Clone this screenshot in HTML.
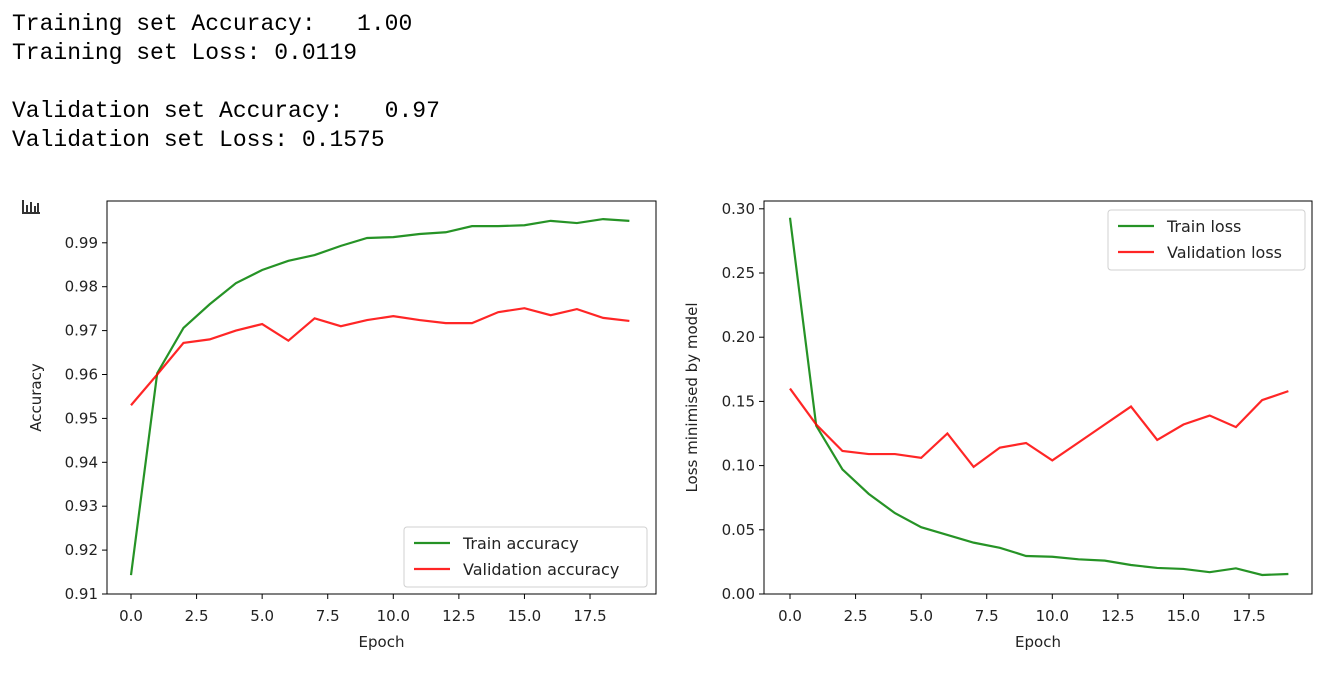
<!DOCTYPE html>
<html><head><meta charset="utf-8">
<style>
body{margin:0;background:#fff;width:1329px;height:684px;overflow:hidden;position:relative}
pre{margin:0;position:absolute;left:12px;top:10px;font-family:"Liberation Mono",monospace;font-size:23px;line-height:29px;color:#000}
svg{position:absolute;left:0;top:0}
text{font-family:"DejaVu Sans",sans-serif;fill:#222}
</style></head><body>
<pre>Training set Accuracy:   1.00
Training set Loss: 0.0119

Validation set Accuracy:   0.97
Validation set Loss: 0.1575</pre>
<svg id="c" width="1329" height="684"></svg>
<script>
const epochs=[0,1,2,3,4,5,6,7,8,9,10,11,12,13,14,15,16,17,18,19];
const trainAcc=[0.9143,0.9603,0.9706,0.976,0.9808,0.9838,0.9859,0.9872,0.9893,0.9911,0.9913,0.992,0.9924,0.9938,0.9938,0.994,0.995,0.9945,0.9954,0.995];
const valAcc=[0.953,0.960,0.9672,0.968,0.970,0.9715,0.9677,0.9728,0.971,0.9724,0.9733,0.9724,0.9717,0.9717,0.9742,0.9751,0.9735,0.9749,0.9729,0.9722];
const trainLoss=[0.293,0.131,0.097,0.078,0.063,0.052,0.046,0.040,0.036,0.0296,0.029,0.027,0.026,0.0226,0.0203,0.0195,0.017,0.020,0.0148,0.0156];
const valLoss=[0.160,0.132,0.1114,0.109,0.109,0.106,0.125,0.099,0.114,0.1176,0.104,0.118,0.132,0.146,0.120,0.132,0.139,0.130,0.151,0.158];
const xTicks=[0,2.5,5,7.5,10,12.5,15,17.5];
const xTickLabels=["0.0","2.5","5.0","7.5","10.0","12.5","15.0","17.5"];
const accTicks=[0.91,0.92,0.93,0.94,0.95,0.96,0.97,0.98,0.99];
const accTickLabels=["0.91","0.92","0.93","0.94","0.95","0.96","0.97","0.98","0.99"];
const lossTicks=[0,0.05,0.10,0.15,0.20,0.25,0.30];
const lossTickLabels=["0.00","0.05","0.10","0.15","0.20","0.25","0.30"];

const svg=document.getElementById('c');
const NS='http://www.w3.org/2000/svg';
function mk(tag,a,parent){const e=document.createElementNS(NS,tag);for(const k in a)e.setAttribute(k,a[k]);(parent||svg).appendChild(e);return e;}

function chart(o){
  const g=mk('g',{});
  
  
  const sx=v=>o.x0+(v-0)*o.kx, sy=v=>o.y0-(v-o.ymin)*o.ky;
  xTicks.forEach((t,i)=>{
    mk('line',{x1:sx(t),x2:sx(t),y1:o.bottom,y2:o.bottom+5,stroke:'#000','stroke-width':1},g);
    const tx=mk('text',{x:sx(t),y:o.bottom+27,'text-anchor':'middle','font-size':15},g);
    tx.textContent=xTickLabels[i];
    
    
  });
  o.yTicks.forEach((t,i)=>{
    mk('line',{x1:o.left-5,x2:o.left,y1:sy(t),y2:sy(t),stroke:'#000','stroke-width':1},g);
    const tx=mk('text',{x:o.left-9,y:sy(t)+5,'text-anchor':'end','font-size':15},g);
    tx.textContent=o.yLabels[i];
    
    
  });
  o.series.forEach(s=>{
    const p=mk('polyline',{points:epochs.map((e,i)=>sx(e)+','+sy(s.data[i])).join(' '),fill:'none',stroke:s.color,'stroke-width':2.2,opacity:0.85},g);
    
    
  });
  mk('rect',{x:o.left,y:o.top,width:o.right-o.left,height:o.bottom-o.top,fill:'none',stroke:'#000','stroke-width':1},g);
  const xl=mk('text',{x:(o.left+o.right)/2,y:647,'text-anchor':'middle','font-size':15},g);
  xl.textContent='Epoch';
  
  
  const yl=mk('text',{x:0,y:0,'text-anchor':'middle','font-size':15,transform:`translate(${o.ylx},${(o.top+o.bottom)/2}) rotate(-90)`},g);
  yl.textContent=o.ylabel;
  
  
  const L=o.legend;
  const lg=mk('g',{},g);
  
  
  mk('rect',{x:L.x,y:L.y,width:L.w,height:60,rx:3,fill:'#fff',stroke:'#ccc','stroke-width':1,opacity:0.9},lg);
  o.series.forEach((s,i)=>{
    const yy=L.y+16+i*26;
    mk('line',{x1:L.x+10,x2:L.x+46,y1:yy,y2:yy,stroke:s.color,'stroke-width':2.2,opacity:0.85},lg);
    const t=mk('text',{x:L.x+59,y:yy+6,'font-size':16},lg);
    t.textContent=s.label;
    
    
  });
}
chart({name:'accuracy-chart',left:107,right:656,top:201,bottom:594,x0:131,kx:26.23,y0:594,ymin:0.91,ky:4390,
  yTicks:accTicks,yLabels:accTickLabels,ylabel:'Accuracy',ylx:41,
  series:[{id:'train-accuracy-line',data:trainAcc,color:'green',label:'Train accuracy'},{id:'validation-accuracy-line',data:valAcc,color:'red',label:'Validation accuracy'}],
  legend:{x:404,y:527,w:243}});
chart({name:'loss-chart',left:764,right:1312,top:201,bottom:594,x0:790,kx:26.23,y0:594,ymin:0,ky:1284,
  yTicks:lossTicks,yLabels:lossTickLabels,ylabel:'Loss minimised by model',ylx:697,
  series:[{id:'train-loss-line',data:trainLoss,color:'green',label:'Train loss'},{id:'validation-loss-line',data:valLoss,color:'red',label:'Validation loss'}],
  legend:{x:1108,y:210,w:197}});
const ic=mk('g',{});


mk('rect',{x:22,y:212,width:18,height:2,fill:'#333'},ic);
mk('rect',{x:22,y:200,width:2,height:14,fill:'#333'},ic);
[[26,205,9],[30,202,12],[34,206,8],[37,203,11]].forEach(b=>mk('rect',{x:b[0],y:b[1],width:2,height:b[2],fill:'#333'},ic));
</script>
</body></html>
